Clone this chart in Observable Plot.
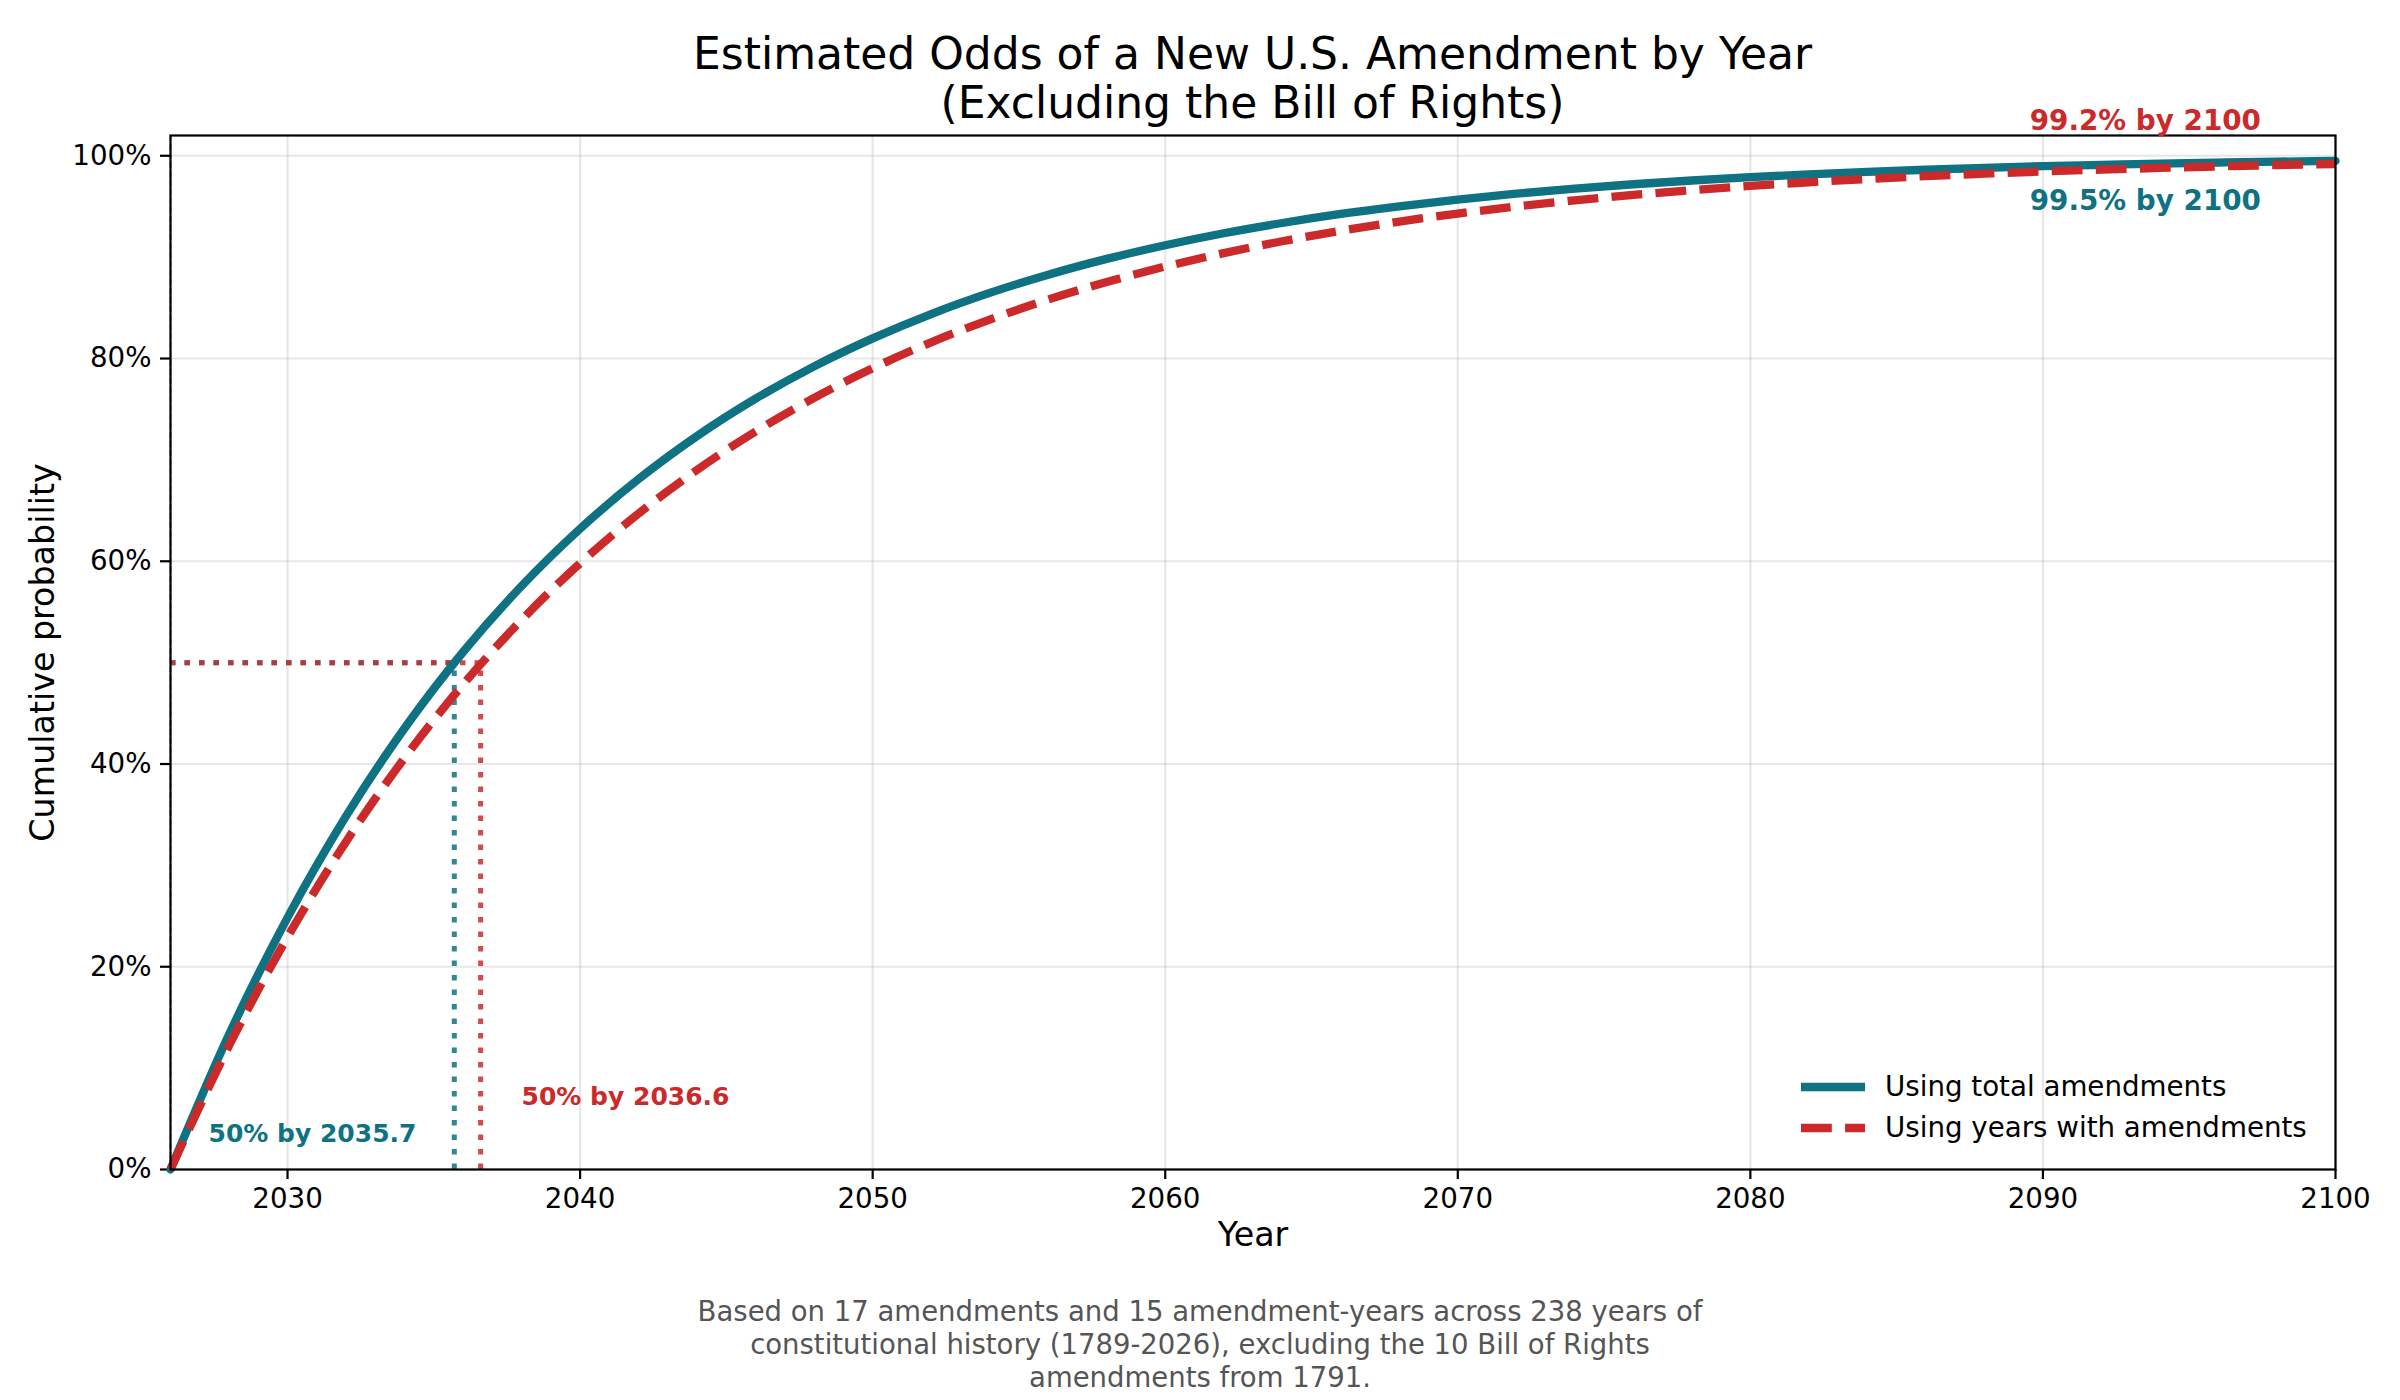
<!DOCTYPE html>
<html>
<head>
<meta charset="utf-8">
<script src="https://cdn.jsdelivr.net/npm/d3@7"></script>
<script src="https://cdn.jsdelivr.net/npm/@observablehq/plot@0.6"></script>
<style>
  html, body { margin: 0; padding: 0; background: #fff; }
  #chart { position: relative; width: 2400px; height: 1400px; font-family: "DejaVu Sans", sans-serif; }
  #title { position: absolute; left: 170px; top: 29px; width: 2165px; text-align: center; font-size: 44px; line-height: 49px; color: #000; }
  #plot { position: absolute; left: 0; top: 128px; }
  #caption { position: absolute; left: 0; top: 1295px; width: 2400px; text-align: center; font-size: 27.5px; line-height: 33px; color: #555; }
  #legend { position: absolute; left: 1800px; top: 1066px; font-size: 27.7px; color: #000; }
  #legend .row { display: flex; align-items: center; height: 41px; }
  #legend svg { margin-right: 19px; }
</style>
</head>
<body>
<div id="chart">
  <div id="title">Estimated Odds of a New U.S. Amendment by Year<br>(Excluding the Bill of Rights)</div>
  <div id="plot"></div>
  <div id="legend"></div>
  <div id="caption">Based on 17 amendments and 15 amendment-years across 238 years of<br>constitutional history (1789-2026), excluding the 10 Bill of Rights<br>amendments from 1791.</div>
</div>
<script>
// Years sampled along the horizon
const years = [2026, 2028, 2030, 2032, 2034, 2036, 2038, 2040, 2042, 2044, 2046, 2048, 2050,
  2052, 2054, 2056, 2058, 2060, 2062, 2064, 2066, 2068, 2070, 2072, 2074, 2076, 2078, 2080,
  2082, 2084, 2086, 2088, 2090, 2092, 2094, 2096, 2098, 2100];

// Cumulative probability, based on total amendments
const totalAmendments = [0, 0.1331, 0.2485, 0.3486, 0.4353, 0.5105, 0.5756, 0.6321, 0.6811,
  0.7236, 0.7604, 0.7923, 0.8199, 0.8439, 0.8647, 0.8827, 0.8983, 0.9118, 0.9236, 0.9337,
  0.9426, 0.9502, 0.9568, 0.9626, 0.9676, 0.9719, 0.9756, 0.9789, 0.9817, 0.9841, 0.9862,
  0.9881, 0.9897, 0.9910, 0.9922, 0.9933, 0.9942, 0.9949];

// Cumulative probability, based on years with amendments
const yearsWithAmendments = [0, 0.1221, 0.2293, 0.3234, 0.4060, 0.4785, 0.5421, 0.5980, 0.6471,
  0.6902, 0.7280, 0.7612, 0.7904, 0.8160, 0.8384, 0.8582, 0.8755, 0.8907, 0.9040, 0.9157,
  0.9260, 0.9351, 0.9430, 0.9499, 0.9561, 0.9614, 0.9661, 0.9703, 0.9739, 0.9771, 0.9799,
  0.9823, 0.9845, 0.9864, 0.9880, 0.9895, 0.9908, 0.9919];

const seriesNames = ["Using total amendments", "Using years with amendments"];
const seriesColors = ["#0e7282", "#cc2a2a"];
const halfYears = [2035.7, 2036.6];      // year each series passes 50%
const finalPercents = [99.5, 99.2];       // cumulative probability by 2100
const startYear = 2026;
const endYear = 2100;
const yTicks = [0, 0.2, 0.4, 0.6, 0.8, 1.0];
const xTicks = [2030, 2040, 2050, 2060, 2070, 2080, 2090, 2100];

const total = years.map((year, i) => ({year, p: totalAmendments[i]}));
const withYears = years.map((year, i) => ({year, p: yearsWithAmendments[i]}));
const halves = halfYears.map((year, i) => ({year, color: seriesColors[i], label: `50% by ${year}`}));
const finals = finalPercents.map((v, i) => ({color: seriesColors[i], label: `${v}% by ${endYear}`}));

const font = "DejaVu Sans";
const dots = "5.5,9";

const plot = Plot.plot({
  width: 2400,
  height: 1152,
  marginLeft: 170,
  marginRight: 65,
  marginTop: 7,
  marginBottom: 111,
  style: {fontFamily: font, background: "transparent", overflow: "visible"},
  x: {domain: [startYear, endYear]},
  y: {domain: [0, 1.02]},
  marks: [
    Plot.gridX(xTicks, {stroke: "#b0b0b0", strokeOpacity: 0.3, strokeWidth: 2.2}),
    Plot.gridY(yTicks, {stroke: "#b0b0b0", strokeOpacity: 0.3, strokeWidth: 2.2}),
    Plot.axisX(xTicks, {tickFormat: d => String(d), tickSize: 10, tickPadding: 9, strokeWidth: 2.2, fontSize: 27.7, fill: "#000", label: null}),
    Plot.axisY(yTicks, {tickFormat: d => `${Math.round(d * 100)}%`, tickSize: 10, tickPadding: 9, strokeWidth: 2.2, fontSize: 27.7, fill: "#000", label: null}),
    Plot.text(["Year"], {frameAnchor: "bottom", dy: 76, fontSize: 33.3, fill: "#000"}),
    Plot.text(["Cumulative probability"], {frameAnchor: "left", dx: -127, rotate: -90, textAnchor: "middle", fontSize: 33.3, fill: "#000"}),
    // reference line at the starting year
    Plot.ruleX([startYear], {stroke: "#000", strokeOpacity: 0.55, strokeWidth: 1.8, strokeDasharray: "6,3"}),
    // 50% guides
    Plot.ruleY(halves, {y: 0.5, x1: startYear, x2: "year", stroke: "color", strokeWidth: 5, strokeOpacity: 0.85, strokeDasharray: dots}),
    Plot.ruleX(halves, {x: "year", y1: 0, y2: 0.5, stroke: "color", strokeWidth: 5, strokeOpacity: 0.85, strokeDasharray: dots}),
    // cumulative probability curves
    Plot.line(total, {x: "year", y: "p", stroke: seriesColors[0], strokeWidth: 8.3, curve: "monotone-x"}),
    Plot.line(withYears, {x: "year", y: "p", stroke: seriesColors[1], strokeWidth: 8.3, strokeDasharray: "30.8,13.3", strokeLinecap: "butt", curve: "monotone-x"}),
    Plot.frame({stroke: "#000", strokeWidth: 2.2}),
    // annotations
    Plot.text([halves[0]], {x: 2027.3, y: 0.035, text: "label", fill: "color", fontWeight: "bold", fontSize: 25, textAnchor: "start"}),
    Plot.text([halves[1]], {x: 2038.0, y: 0.072, text: "label", fill: "color", fontWeight: "bold", fontSize: 25, textAnchor: "start"}),
    Plot.text([finals[0]], {x: 2093.5, y: 0.955, text: "label", fill: "color", fontWeight: "bold", fontSize: 27.8}),
    Plot.text([finals[1]], {x: 2093.5, y: 1.034, text: "label", fill: "color", fontWeight: "bold", fontSize: 27.8})
  ]
});
document.getElementById("plot").appendChild(plot);

// Legend in the lower right of the plot area
const legend = document.getElementById("legend");
seriesNames.forEach((name, i) => {
  const row = document.createElement("div");
  row.className = "row";
  const dash = i === 1 ? ' stroke-dasharray="30.8,13.3"' : "";
  row.innerHTML = `<svg width="66" height="12"><line x1="1" y1="6" x2="65" y2="6" stroke="${seriesColors[i]}" stroke-width="8.3"${dash}/></svg><span>${name}</span>`;
  legend.appendChild(row);
});
</script>
</body>
</html>
